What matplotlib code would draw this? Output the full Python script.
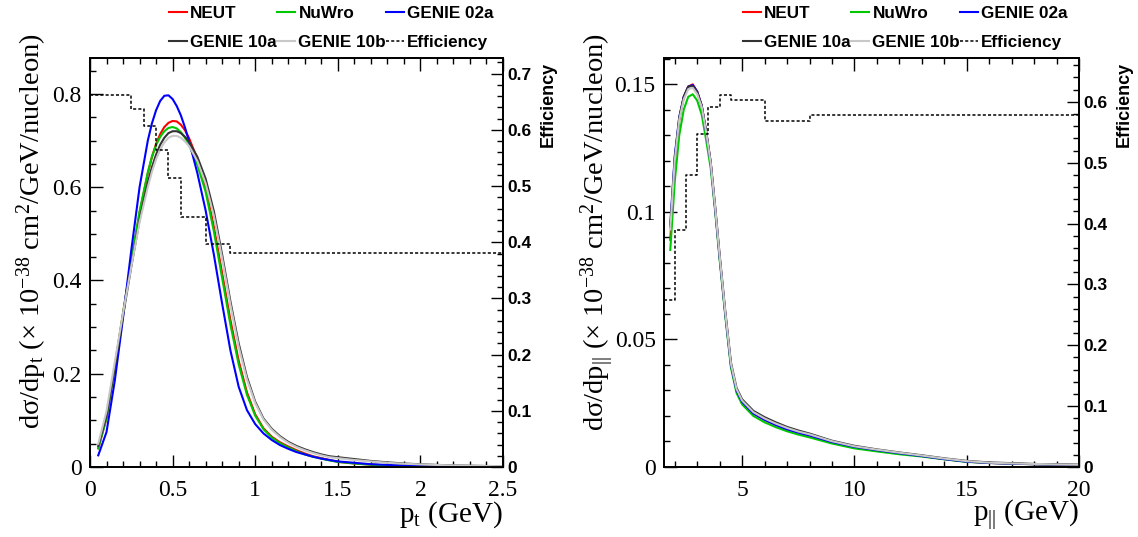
import numpy as np
import matplotlib
matplotlib.use("Agg")
from matplotlib import pyplot as plt
from matplotlib.lines import Line2D
from matplotlib.ticker import MultipleLocator, FormatStrFormatter

plt.rcParams['mathtext.fontset'] = 'custom'
plt.rcParams['mathtext.rm'] = 'Liberation Serif'
plt.rcParams['mathtext.it'] = 'Liberation Serif:italic'

# ---- p_t panel (GeV) ----
pt = [0.05, 0.10, 0.15, 0.20, 0.25, 0.30, 0.35, 0.375, 0.40, 0.425, 0.45, 0.475, 0.50,
      0.525, 0.55, 0.575, 0.60, 0.65, 0.70, 0.75, 0.80, 0.85, 0.90, 0.95, 1.00,
      1.05, 1.10, 1.15, 1.20, 1.25, 1.30, 1.35, 1.40, 1.45, 1.50,
      1.60, 1.70, 1.80, 1.90, 2.00, 2.10, 2.20, 2.30, 2.40, 2.50]
pt_neut = [0.040, 0.105, 0.215, 0.330, 0.440, 0.545, 0.630, 0.665, 0.693, 0.714, 0.729, 0.738, 0.742,
           0.741, 0.734, 0.722, 0.705, 0.660, 0.600, 0.515, 0.415, 0.315, 0.228, 0.160, 0.113,
           0.083, 0.065, 0.053, 0.044, 0.036, 0.029, 0.023, 0.019, 0.015, 0.011,
           0.0075, 0.005, 0.0035, 0.0025, 0.0018, 0.0013, 0.0010, 0.0008, 0.0006, 0.0005]
pt_nuwro = [0.040, 0.105, 0.215, 0.330, 0.443, 0.548, 0.632, 0.665, 0.690, 0.708, 0.720, 0.727, 0.729,
            0.726, 0.718, 0.706, 0.690, 0.648, 0.590, 0.505, 0.405, 0.305, 0.220, 0.155, 0.110,
            0.081, 0.063, 0.051, 0.042, 0.034, 0.027, 0.022, 0.018, 0.014, 0.011,
            0.0075, 0.005, 0.0035, 0.0025, 0.0018, 0.0013, 0.0010, 0.0008, 0.0006, 0.0005]
pt_genie02a = [0.025, 0.075, 0.185, 0.320, 0.465, 0.600, 0.700, 0.737, 0.765, 0.785, 0.796, 0.797, 0.789,
               0.774, 0.754, 0.728, 0.698, 0.630, 0.550, 0.455, 0.350, 0.250, 0.172, 0.122, 0.092,
               0.072, 0.058, 0.047, 0.039, 0.032, 0.027, 0.022, 0.018, 0.015, 0.012,
               0.009, 0.006, 0.0045, 0.0033, 0.0025, 0.0019, 0.0015, 0.0012, 0.0010, 0.0008]
pt_genie10a = [0.045, 0.110, 0.215, 0.325, 0.430, 0.530, 0.610, 0.643, 0.670, 0.691, 0.706, 0.716, 0.720,
               0.720, 0.716, 0.708, 0.697, 0.665, 0.618, 0.548, 0.455, 0.355, 0.265, 0.193, 0.140,
               0.104, 0.082, 0.066, 0.054, 0.045, 0.038, 0.032, 0.027, 0.023, 0.021,
               0.017, 0.013, 0.010, 0.0075, 0.0058, 0.0045, 0.0035, 0.0028, 0.0022, 0.0018]
pt_genie10b = [0.050, 0.120, 0.225, 0.330, 0.430, 0.525, 0.600, 0.633, 0.660, 0.681, 0.696, 0.706, 0.710,
               0.710, 0.706, 0.698, 0.688, 0.656, 0.608, 0.538, 0.447, 0.348, 0.258, 0.188, 0.137,
               0.102, 0.080, 0.064, 0.052, 0.043, 0.036, 0.030, 0.025, 0.021, 0.019,
               0.015, 0.012, 0.009, 0.007, 0.0055, 0.0043, 0.0034, 0.0027, 0.0021, 0.0017]
pt_eff_edges = [0, 0.25, 0.325, 0.4, 0.475, 0.55, 0.7, 0.85, 2.5]
pt_eff = [0.663, 0.638, 0.607, 0.565, 0.514, 0.445, 0.397, 0.381]

# ---- p_parallel panel (GeV) ----
pl = [1.8, 2.0, 2.2, 2.4, 2.6, 2.8, 3.0, 3.2, 3.4, 3.6, 3.8, 4.0, 4.25, 4.5, 4.75,
      5.0, 5.5, 6.0, 6.5, 7.0, 7.5, 8.0, 9.0, 10, 11, 12, 13, 14, 15, 16, 17, 18, 19, 20]
pl_neut = [0.089, 0.119, 0.136, 0.145, 0.149, 0.1499, 0.147, 0.1415, 0.131, 0.119, 0.101, 0.082, 0.060, 0.040, 0.030,
           0.0255, 0.021, 0.0185, 0.0165, 0.0148, 0.0135, 0.0124, 0.0098, 0.0079, 0.0066, 0.0054, 0.0043, 0.0031,
           0.0021, 0.0016, 0.0013, 0.0011, 0.0009, 0.0008]
pl_nuwro = [0.085, 0.112, 0.130, 0.140, 0.145, 0.146, 0.1435, 0.138, 0.128, 0.117, 0.100, 0.081, 0.059, 0.039, 0.029,
            0.0245, 0.0200, 0.0175, 0.0156, 0.0140, 0.0127, 0.0116, 0.0092, 0.0073, 0.0061, 0.0050, 0.0041, 0.0030,
            0.0020, 0.0016, 0.0013, 0.0011, 0.0009, 0.0008]
pl_genie02a = [0.095, 0.122, 0.137, 0.145, 0.149, 0.1496, 0.147, 0.1415, 0.131, 0.119, 0.101, 0.082, 0.060, 0.040, 0.030,
               0.0255, 0.021, 0.0185, 0.0165, 0.0148, 0.0135, 0.0124, 0.0098, 0.0079, 0.0066, 0.0054, 0.0043, 0.0031,
               0.0021, 0.0016, 0.0013, 0.0011, 0.0009, 0.0008]
pl_genie10a = [0.094, 0.121, 0.137, 0.145, 0.149, 0.1492, 0.1468, 0.1415, 0.1315, 0.1195, 0.102, 0.083, 0.061, 0.041, 0.031,
               0.0265, 0.0220, 0.0195, 0.0175, 0.0157, 0.0143, 0.0131, 0.0103, 0.0083, 0.0069, 0.0057, 0.0046, 0.0034,
               0.0024, 0.0018, 0.0015, 0.0012, 0.0010, 0.0009]
pl_genie10b = [0.093, 0.120, 0.136, 0.144, 0.148, 0.1485, 0.146, 0.141, 0.131, 0.119, 0.1015, 0.0825, 0.0605, 0.0405, 0.0305,
               0.026, 0.0215, 0.019, 0.017, 0.0153, 0.0139, 0.0128, 0.0101, 0.0081, 0.0068, 0.0056, 0.0045, 0.0033,
               0.0023, 0.0017, 0.0014, 0.0012, 0.0010, 0.0009]
pl_eff_edges = [1.5, 2, 2.5, 3, 3.5, 4, 4.5, 6, 8, 20]
pl_eff = [0.274, 0.39, 0.48, 0.547, 0.592, 0.612, 0.603, 0.568, 0.578]

labels = ['NEUT', 'NuWro', 'GENIE 02a', 'GENIE 10a', 'GENIE 10b']
colors = ['#ff0000', '#00c800', '#0000ff', '#333333', '#c8c8c8']

serif = 'Liberation Serif'
sans = 'Liberation Sans'
W, H = 1138, 537
eff_style = (0, (2, 1.4))

fig = plt.figure(figsize=(W / 100, H / 100), dpi=100)


def style_axes(ax, ax2):
    ax.tick_params(axis='both', which='both', direction='in', top=True, right=False, width=1.0)
    ax.tick_params(which='major', length=9, labelsize=17, pad=6)
    ax.tick_params(which='minor', length=4.5)
    ax.tick_params(axis='x', pad=9)
    for t in ax.get_xticklabels() + ax.get_yticklabels():
        t.set_fontfamily(serif)
    ax2.tick_params(axis='y', which='both', direction='in', right=True, width=1.0, pad=3)
    ax2.tick_params(which='major', length=9, labelsize=12.5)
    ax2.tick_params(which='minor', length=4.5)
    for t in ax2.get_yticklabels():
        t.set_fontfamily(sans)
        t.set_fontweight('bold')
    for sp in ax.spines.values():
        sp.set_linewidth(1.3)
    for sp in ax2.spines.values():
        sp.set_linewidth(1.3)


def draw_panel(left_px, right_px, ylab_px, x, ys, edges, eff, xlim, ylim, efflim,
               xmaj, xmin, ymaj, ymin, sub):
    ax = fig.add_axes([left_px / W, 70 / H, (right_px - left_px) / W, 409 / H])
    order = [4, 3, 0, 1, 2]
    for i in order:
        ax.plot(x, ys[i], color=colors[i], lw=1.5, zorder=2 + i)
    ax.set_xlim(*xlim)
    ax.set_ylim(*ylim)
    ax.xaxis.set_major_locator(MultipleLocator(xmaj))
    ax.xaxis.set_minor_locator(MultipleLocator(xmin))
    ax.yaxis.set_major_locator(MultipleLocator(ymaj))
    ax.yaxis.set_minor_locator(MultipleLocator(ymin))
    ax.xaxis.set_major_formatter(FormatStrFormatter('%g'))
    ax.yaxis.set_major_formatter(FormatStrFormatter('%g'))

    ax2 = ax.twinx()
    ax2.step(edges, eff + [eff[-1]], where='post', color='black', lw=1.1,
             linestyle=eff_style)
    ax2.set_ylim(*efflim)
    ax2.yaxis.set_major_locator(MultipleLocator(0.1))
    ax2.yaxis.set_minor_locator(MultipleLocator(0.02))
    ax2.yaxis.set_major_formatter(FormatStrFormatter('%g'))
    style_axes(ax, ax2)

    fig.text((right_px + 45) / W, 1 - 62 / H, 'Efficiency', rotation=90, ha='center', va='top',
             fontfamily=sans, fontweight='bold', fontsize=13)
    fig.text(ylab_px / W, 1 - 33 / H,
             'dσ/dp$_{\\mathrm{' + sub + '}}$ (× 10$^{\\mathrm{-38}}$ cm$^{\\mathrm{2}}$/GeV/nucleon)',
             rotation=90, ha='center', va='top', fontfamily=serif, fontsize=20.5)
    fig.text(right_px / W, 1 - 515 / H, 'p$_{\\mathrm{' + sub + '}}$ (GeV)', ha='right', va='center',
             fontfamily=serif, fontsize=21)

    # legend: 3 fixed-width columns, 2 rows (like the ROOT TLegend)
    cols = [[(Line2D([], [], color=colors[0], lw=1.5), labels[0]),
             (Line2D([], [], color=colors[3], lw=1.5), labels[3])],
            [(Line2D([], [], color=colors[1], lw=1.5), labels[1]),
             (Line2D([], [], color=colors[4], lw=1.5), labels[4])],
            [(Line2D([], [], color=colors[2], lw=1.5), labels[2]),
             (Line2D([], [], color='black', lw=1.1, linestyle=eff_style), 'Efficiency')]]
    for k, col in enumerate(cols):
        fig.legend([c[0] for c in col], [c[1] for c in col], loc='upper left',
                   bbox_to_anchor=((left_px + 76 + 108.5 * k) / W, 1 - 3 / H), frameon=False,
                   handlelength=1.05, handletextpad=0.2,
                   labelspacing=0.85, borderpad=0.15, borderaxespad=0,
                   prop={'family': sans, 'weight': 'bold', 'size': 12.3})
    return ax


draw_panel(90, 503, 32, pt, [pt_neut, pt_nuwro, pt_genie02a, pt_genie10a, pt_genie10b],
           pt_eff_edges, pt_eff, (0, 2.5), (0, 0.877), (0, 0.728),
           0.5, 0.1, 0.2, 0.05, 't')
draw_panel(664, 1079, 598, pl, [pl_neut, pl_nuwro, pl_genie02a, pl_genie10a, pl_genie10b],
           pl_eff_edges, pl_eff, (1.52, 20), (0, 0.1602), (0, 0.672),
           5, 1, 0.05, 0.01, '||')

fig.savefig('out.png', dpi=100)
